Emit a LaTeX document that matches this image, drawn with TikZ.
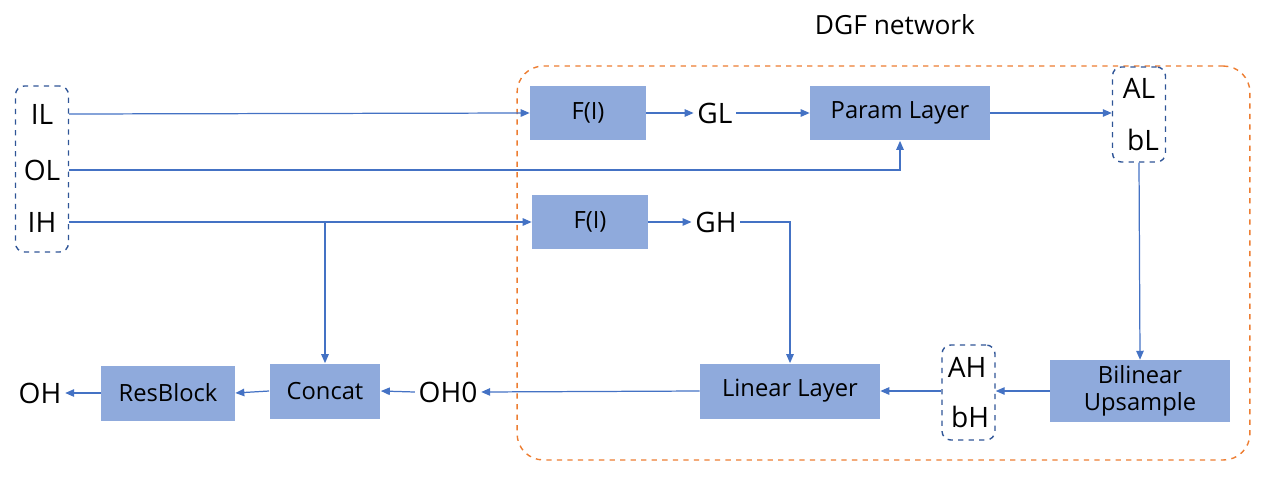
\documentclass[tikz,border=0pt]{standalone}
\usepackage{fontspec}
\setmainfont{Open Sans}
\usetikzlibrary{arrows.meta}
\definecolor{boxblue}{HTML}{8FAADC}
\definecolor{lineblue}{HTML}{4472C4}
\definecolor{darkblue}{HTML}{2F5597}
\definecolor{dgforange}{HTML}{ED7D31}
\begin{document}
\begin{tikzpicture}
			[x=0.02cm,y=-0.02cm,
			b/.style= {fill=boxblue,draw=none,minimum height=1.1cm,font=\fontsize{13.5}{15}\selectfont,align=center},
			t/.style= {font=\fontsize{16}{18}\selectfont,inner sep=2pt},
			g/.style= {draw=darkblue,thick,dashed,rounded corners=5pt,minimum width=1.06cm,minimum height=1.9cm},
			e/.style= {draw=lineblue,line width=0.7pt,-{Triangle[length=1.8mm,width=1.5mm]}}]

			\useasboundingbox (0,0) rectangle (1270,480);

			% DGF network
			\node[draw=dgforange,thick,dashed,rounded corners=15pt,minimum width=14.66cm,minimum height=7.88cm] (dgf) at (883.5,263) {};
			\node[font=\fontsize{15}{18}\selectfont] (title) at (895,25) {DGF network};

			% inputs
			\node[g,minimum height=3.32cm] (inp) at (42,169) {};
			\node[t] (il) at (42,114) {IL};
			\node[t] (ol) at (42,170) {OL};
			\node[t] (ih) at (42,222) {IH};

			% low resolution branch
			\node[b,minimum width=2.32cm] (f1) at (588,113) {F(I)};
			\node[t] (gl) at (715,113) {GL};
			\node[b,minimum width=3.6cm] (param) at (900,113) {Param Layer};
			\node[g] (albox) at (1139,114.5) {};
			\node[t] (al) at (1139,88) {AL};
			\node[t] (bl) at (1143,140) {bL};

			% high resolution branch
			\node[b,minimum width=2.32cm] (f2) at (590,222) {F(I)};
			\node[t] (gh) at (716,222) {GH};
			\node[b,minimum width=3.6cm] (bilin) at (1140,391) {Bilinear\\Upsample};
			\node[g] (ahbox) at (968.5,392.5) {};
			\node[t] (ah) at (967,367) {AH};
			\node[t] (bh) at (970,417) {bH};
			\node[b,minimum width=3.6cm] (linear) at (790,391) {Linear Layer};

			% output
			\node[t] (oh0) at (448,392) {OH0};
			\node[b,minimum width=2.22cm] (concat) at (325,391) {Concat};
			\node[b,minimum width=2.68cm] (res) at (168,393) {ResBlock};
			\node[t] (oh) at (40,393) {OH};

			% connectors
			\draw[e] (il -| inp.east) -- (f1.west);
			\draw[e] (ol -| inp.east) -| (param.south);
			\draw[e] (ih -| inp.east) -- (f2.west);
			\draw[e] (concat |- ih) -- (concat.north);
			\draw[e] (f1.east) -- (gl.west);
			\draw[e] (gl.east) -- (param.west);
			\draw[e] (param.east) -- (param.east -| albox.west);
			\draw[e] (albox.south) -- (bilin.north);
			\draw[e] (f2.east) -- (gh.west);
			\draw[e] (gh.east) -| (linear.north);
			\draw[e] (bilin.west) -- (bilin.west -| ahbox.east);
			\draw[e] (ahbox.west |- linear) -- (linear.east);
			\draw[e] (linear.west) -- (oh0.east);
			\draw[e] (oh0.west) -- (concat.east);
			\draw[e] (concat.west) -- (res.east);
			\draw[e] (res.west) -- (oh.east);

\end{tikzpicture}
\end{document}
